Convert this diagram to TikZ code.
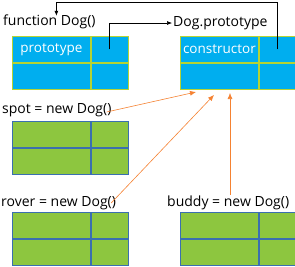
\documentclass[tikz,border=0pt]{standalone}
\usepackage{fontspec}
\setmainfont{Open Sans}
\usetikzlibrary{arrows.meta}
\definecolor{protoblue}{HTML}{00AEEF}
\definecolor{limeline}{HTML}{B5D334}
\definecolor{objgreen}{HTML}{8DC63F}
\definecolor{edgeblue}{HTML}{3A6FB0}
\definecolor{linkorange}{HTML}{F58232}
\tikzset{
  cellbase/.style={rectangle, inner sep=0pt, anchor=north west, minimum height=26pt, line width=0.8pt},
  bluecell/.style={cellbase, draw=limeline, fill=protoblue, text=white, font=\fontsize{13.5}{15}\selectfont},
  greencell/.style={cellbase, draw=edgeblue, fill=objgreen},
  lbl/.style={inner sep=1pt, anchor=west, font=\fontsize{14}{16}\selectfont},
  blackarrow/.style={-{Latex[length=5pt,width=4pt]}, line width=0.6pt},
  orangearrow/.style={-{Latex[length=6pt,width=5pt]}, draw=linkorange, line width=0.6pt},
}
\begin{document}
\begin{tikzpicture}[x=1pt, y=-1pt]
    \useasboundingbox (0,0) rectangle (295,266);
    % prototype objects
    \foreach \nm/\x/\y/\tx in {fn/12/36/prototype, pr/180/36/constructor} {
        \node[bluecell, minimum width=78pt] (\nm a) at (\x,\y) {\tx};
        \node[bluecell, minimum width=37pt] (\nm b) at (\nm a.north east) {};
        \node[bluecell, minimum width=78pt] (\nm c) at (\nm a.south west) {};
        \node[bluecell, minimum width=37pt] (\nm d) at (\nm a.south east) {};
    }
    % instances
    \foreach \nm/\x/\y in {spotobj/12/121, roverobj/12/212, buddyobj/180/212} {
        \node[greencell, minimum width=78pt] (\nm a) at (\x,\y) {};
        \node[greencell, minimum width=37pt] (\nm b) at (\nm a.north east) {};
        \node[greencell, minimum width=78pt] (\nm c) at (\nm a.south west) {};
        \node[greencell, minimum width=37pt] (\nm d) at (\nm a.south east) {};
    }
    \node[lbl] (fnlabel) at (2,22) {function Dog()};
    \node[lbl] (prlabel) at (172,23) {Dog.prototype};
    \node[lbl] (spot) at (1,110) {spot = new Dog()};
    \node[lbl] (rover) at (0,203) {rover = new Dog()};
    \node[lbl] (buddy) at (166,203) {buddy = new Dog()};
    % links
    \draw[blackarrow] (prb.center) -- (prb.center |- 0,2) -| ([xshift=7pt,yshift=-2pt]fnlabel.north);
    \draw[blackarrow] (fnb.center) |- (prlabel.west);
    \coordinate (spottip) at (196,92);
    \coordinate (rovertip) at (214,95);
    \coordinate (buddytip) at (230,93);
    \draw[orangearrow] ([xshift=-6pt,yshift=-2pt]spot.east) -- (spottip);
    \draw[orangearrow] ([xshift=-6pt]rover.east) -- (rovertip);
    \draw[orangearrow] (buddytip |- buddy.north) -- (buddytip);
\end{tikzpicture}
\end{document}
